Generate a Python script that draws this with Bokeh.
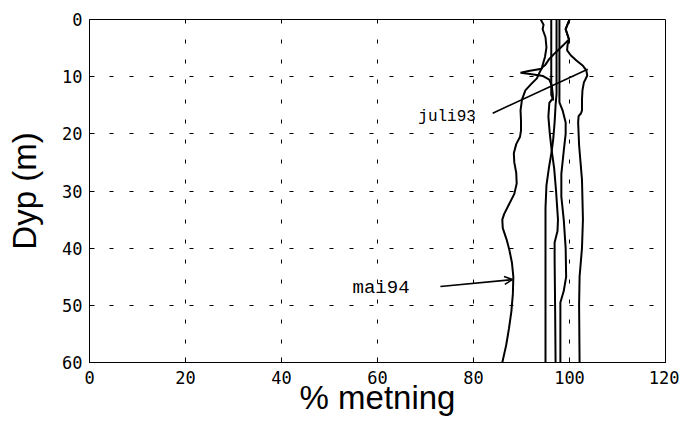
from bokeh.plotting import figure
from bokeh.models import Range1d, FixedTicker, Label, Arrow, OpenHead
from bokeh.embed import file_html
from bokeh.resources import INLINE

# ---------------- data ----------------
x_ticks = [0, 20, 40, 60, 80, 100, 120]
y_ticks = [0, 10, 20, 30, 40, 50, 60]

# profile A (mai94)
depth_a = [0, 1.7, 3.5, 4.4, 5.2, 6.1, 7.0, 7.9, 8.4, 9.2, 10.3, 11.3, 12.4, 14, 15.9,
           17.7, 19.4, 20.5, 21.8, 23.4, 25, 26.8, 28.7, 30.5, 32.5, 34, 35, 36.5, 38.5,
           40.4, 42.5, 45, 48, 51, 54, 57, 60]
sat_a = [100.0, 99.2, 99.9, 98.8, 97.8, 96.7, 95.7, 95.0, 94.3, 93.8, 93.2, 92.0, 90.8,
         90.1, 89.8, 89.9, 89.9, 89.7, 88.9, 88.4, 88.5, 88.9, 89.0, 88.5, 87.3, 86.4,
         86.0, 86.1, 86.9, 87.5, 88.0, 88.3, 88.2, 87.9, 87.4, 86.8, 86.0]

# profile B (upper profile with spike)
depth_b = [0, 0.9, 1.7, 3.1, 4.9, 6.5, 7.7, 8.6, 9.0, 9.3, 9.55, 9.9, 10.5, 11.5, 13, 14.2]
sat_b = [94.0, 94.6, 94.4, 95.0, 95.2, 94.9, 94.5, 94.2, 91.5, 89.8, 91.8, 94.5, 95.8,
         96.3, 96.5, 96.6]

# profile C
depth_c = [0, 13.2, 13.8, 14.6, 17, 20, 23, 26, 30, 35, 37, 39, 42, 50, 60]
sat_c = [96.2, 96.2, 96.5, 95.8, 95.6, 95.9, 96.3, 96.8, 97.2, 97.6, 97.5, 96.9, 96.9,
         97.0, 97.1]

# profile D1
depth_d1 = [0, 13, 15, 18, 21, 23, 26, 29, 33, 60]
sat_d1 = [97.3, 97.3, 97.1, 96.9, 96.6, 96.3, 95.7, 95.2, 95.0, 95.0]

# profile D2
depth_d2 = [0, 13, 14.5, 16, 18, 20, 23, 27, 31, 35, 40, 45, 47.5, 49.5, 60]
sat_d2 = [97.9, 97.9, 97.9, 98.6, 99.2, 99.2, 98.8, 98.3, 98.3, 98.8, 99.2, 99.3, 98.8,
          98.1, 98.1]

# profile E (juli93)
depth_e = [0, 1.7, 3.5, 4.4, 5.4, 6.3, 7.2, 8.1, 8.9, 9.8, 10.5, 11, 12.4, 14, 15.9,
           16.4, 16.9, 18, 22, 28, 35, 40, 45, 50, 60]
sat_e = [100.0, 99.2, 99.9, 99.6, 99.5, 100.3, 101.5, 102.8, 103.5, 103.7, 103.3, 103.0,
         102.7, 102.6, 102.6, 102.4, 101.9, 101.8, 102.0, 102.6, 102.8, 102.6, 102.1,
         102.0, 102.1]

profiles = [(sat_a, depth_a), (sat_b, depth_b), (sat_c, depth_c),
            (sat_d1, depth_d1), (sat_d2, depth_d2), (sat_e, depth_e)]

# ---------------- figure ----------------
p = figure(width=679, height=431, x_range=Range1d(0, 120), y_range=Range1d(60, 0),
           output_backend="svg", toolbar_location=None,
           min_border_left=89, min_border_right=14, min_border_top=19,
           min_border_bottom=69)
p.background_fill_color = "white"
p.border_fill_color = "white"
p.outline_line_color = "black"
p.outline_line_alpha = 1
p.outline_line_width = 1

p.xaxis.ticker = FixedTicker(ticks=x_ticks)
p.yaxis.ticker = FixedTicker(ticks=y_ticks)

for ax in (p.xaxis[0], p.yaxis[0]):
    ax.axis_line_color = "black"
    ax.major_tick_line_color = "black"
    ax.major_tick_in = 5
    ax.major_tick_out = 0
    ax.minor_tick_line_color = None
    ax.major_label_text_font = "DejaVu Sans Mono"
    ax.major_label_text_font_size = "17px"
    ax.major_label_text_color = "black"
    ax.axis_label_text_font = "Liberation Sans"
    ax.axis_label_text_font_style = "normal"
    ax.axis_label_text_font_size = "33px"
    ax.axis_label_text_color = "black"

p.xaxis.axis_label = "% metning"
p.yaxis.axis_label = "Dyp (m)"
p.xaxis.major_label_standoff = 8
p.xaxis.axis_label_standoff = -8
p.yaxis.major_label_standoff = 7
p.yaxis.axis_label_standoff = 16

for g in (p.xgrid[0], p.ygrid[0]):
    g.grid_line_color = "black"
    g.grid_line_width = 1
    g.grid_line_dash = "4 16"

for sx, dy in profiles:
    p.line(sx, dy, line_color="black", line_width=2)

# annotations
p.add_layout(Label(x=68.5, y=17.1, text="juli93", text_font="Liberation Mono",
                   text_font_size="16px", text_baseline="middle", text_color="black"))
p.line([84.0, 103.8], [16.4, 8.7], line_color="black", line_width=1.6)

p.add_layout(Label(x=54.8, y=47.0, text="mai94", text_font="Liberation Mono",
                   text_font_size="19px", text_baseline="middle", text_color="black"))
p.add_layout(Arrow(end=OpenHead(size=8, line_width=1.6, line_color="black"),
                   x_start=73.1, y_start=46.7, x_end=88.1, y_end=45.5,
                   line_width=1.6, line_color="black"))

open("out.html", "w").write(file_html(p, INLINE))
